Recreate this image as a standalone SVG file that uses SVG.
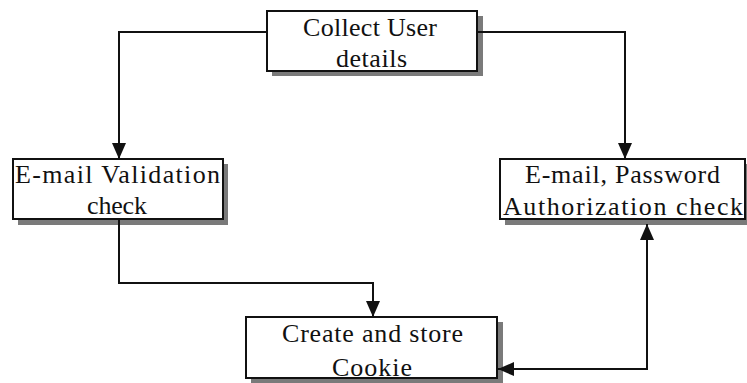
<svg xmlns="http://www.w3.org/2000/svg" width="747" height="383" viewBox="0 0 747 383">
  <style>
    .shadow { fill: #7a7a7a; }
    .box { fill: #ffffff; stroke: #111111; stroke-width: 2; }
    .label { font-family: "Liberation Serif", "Times New Roman", serif; font-size: 26px; fill: #111111; text-anchor: start; }
    .wire { fill: none; stroke: #111111; stroke-width: 2; }
  </style>
  <defs>
    <marker id="arrow" viewBox="0 0 16 14" refX="16" refY="7" markerWidth="16" markerHeight="14" markerUnits="userSpaceOnUse" orient="auto-start-reverse">
      <path d="M0,0 L16,7 L0,14 Z" fill="#111111"/>
    </marker>
  </defs>
  <rect width="747" height="383" fill="#ffffff"/>

  <g id="collect-user-details">
    <rect class="shadow" x="272" y="16" width="211" height="60"/>
    <rect class="box" x="267" y="11" width="210" height="60"/>
    <text class="label" x="303" y="36" textLength="134" lengthAdjust="spacing">Collect User</text>
    <text class="label" x="336" y="67" textLength="71" lengthAdjust="spacing">details</text>
  </g>

  <g id="email-validation-check">
    <rect class="shadow" x="18" y="164" width="210" height="61"/>
    <rect class="box" x="13" y="159" width="210" height="60"/>
    <text class="label" x="15" y="183" textLength="205" lengthAdjust="spacing">E-mail Validation</text>
    <text class="label" x="87" y="214" textLength="60" lengthAdjust="spacing">check</text>
  </g>

  <g id="authorization-check">
    <rect class="shadow" x="505" y="164" width="247" height="61"/>
    <rect class="box" x="500" y="159" width="245" height="60"/>
    <text class="label" x="525" y="183" textLength="195" lengthAdjust="spacing">E-mail, Password</text>
    <text class="label" x="503" y="215" textLength="240" lengthAdjust="spacing">Authorization check</text>
  </g>

  <g id="create-cookie">
    <rect class="shadow" x="251" y="322" width="252" height="61"/>
    <rect class="box" x="246" y="317" width="251" height="61"/>
    <text class="label" x="282" y="342" textLength="181" lengthAdjust="spacing">Create and store</text>
    <text class="label" x="332" y="376" textLength="80" lengthAdjust="spacing">Cookie</text>
  </g>

  <g id="connectors">
    <path class="wire" d="M267,32 H119 V159" marker-end="url(#arrow)"/>
    <path class="wire" d="M477,32 H625 V159" marker-end="url(#arrow)"/>
    <path class="wire" d="M119,219 V283 H373 V317" marker-end="url(#arrow)"/>
    <path class="wire" d="M498,369 H647 V224" marker-start="url(#arrow)" marker-end="url(#arrow)"/>
  </g>
</svg>
